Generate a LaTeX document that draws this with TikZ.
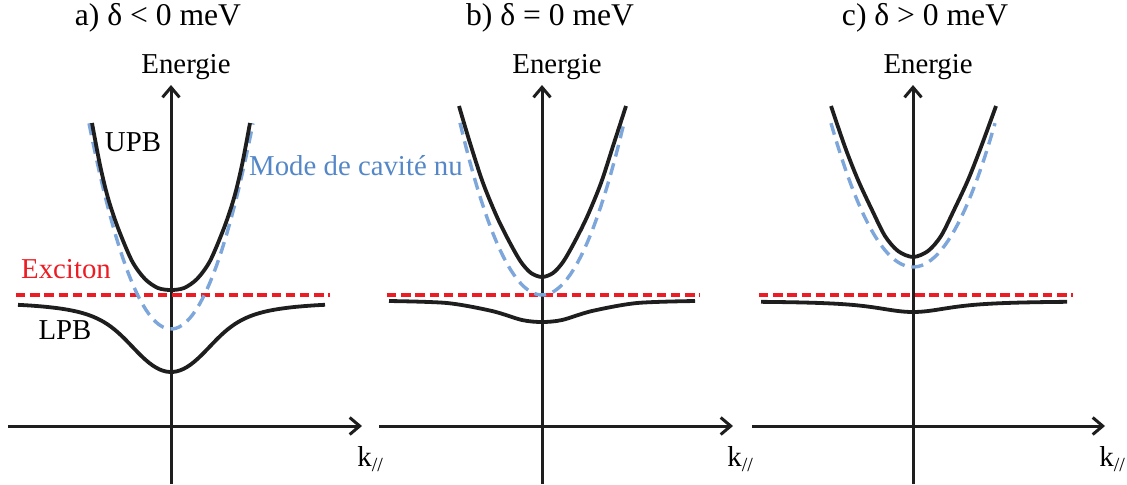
\documentclass[tikz,border=0pt]{standalone}
\usepackage{fontspec}
\setmainfont{Liberation Serif}
\usepackage{xcolor}
\definecolor{exciton}{RGB}{237,28,36}
\definecolor{cavity}{RGB}{125,166,218}
\definecolor{cavitytext}{RGB}{84,135,200}
\definecolor{branchcol}{RGB}{30,30,30}
\usetikzlibrary{arrows.meta, positioning}

\begin{document}
\begin{tikzpicture}[
        x=0.5pt, y=-0.5pt,
        declare function={
            cav(\k,\e,\a)=\e-\a*(\k)*(\k);
            lpb(\k,\e,\a,\g)=(cav(\k,\e,\a)+295)/2+10*veclen((cav(\k,\e,\a)-295)/20,\g/10)+6;
        },
        axis/.style={line width=1.5pt, draw=branchcol, -{Straight Barb[length=5pt, width=8.5pt]}},
        branch/.style={line width=1.9pt, draw=branchcol},
        excline/.style={line width=1.6pt, draw=exciton, dash pattern=on 4.7pt off 2.4pt},
        cavline/.style={line width=1.7pt, draw=cavity, dash pattern=on 6pt off 3.5pt},
        title/.style={font=\fontsize{15.8}{18}\selectfont},
        lbl/.style={font=\fontsize{14.4}{17}\selectfont, inner sep=0pt}
    ]
        \useasboundingbox (0,0) rectangle (1127,484);

        % Panel a
        \node[title] (ta) at (158,18) {a) δ < 0 meV};
        \coordinate (ya0) at (171,484);
        \coordinate (ya1) at (171,85);
        \coordinate (xa0) at (8,426);
        \coordinate (xa1) at (362,426);
        \draw[axis] (ya0) -- (ya1);
        \draw[axis] (xa0) -- (xa1);
        \node[lbl] (ena) at (186,67) {Energie};
        \node[lbl, anchor=west] (ka) at (357,459) {k\textsubscript{//}};
        \coordinate (exa0) at (16,295);
        \coordinate (exa1) at (330,295);
        \draw[excline] (exa0) -- (exa1);
        \draw[cavline] plot[domain=-82:82, samples=50] ({171+\x},{cav(\x,329,0.0306)});
        \draw[branch] plot[smooth] coordinates {(92,123) (100,165) (108,198) (118,228) (132,261) (145,279) (158,288) (171,290) (184,288) (197,279) (210,261) (224,228) (234,198) (242,165) (250,123)};
        \draw[branch] plot[domain=-153:154, samples=90] ({171+\x},{lpb(\x,329,0.0306,51.25)});
        \node[lbl] (upb) at (133,142) {UPB};
        \node[lbl] (lpbl) at (65,330) {LPB};
        \node[lbl, text=exciton] (exc) at (66,269) {Exciton};
        \node[lbl, text=cavitytext] (cavl) at (356,166) {Mode de cavité nu};

        % Panel b
        \node[title] (tb) at (550,18) {b) δ = 0 meV};
        \coordinate (yb0) at (542,484);
        \coordinate (yb1) at (542,85);
        \coordinate (xb0) at (379,426);
        \coordinate (xb1) at (733,426);
        \draw[axis] (yb0) -- (yb1);
        \draw[axis] (xb0) -- (xb1);
        \node[lbl] (enb) at (557,67) {Energie};
        \node[lbl, anchor=west] (kb) at (727,459) {k\textsubscript{//}};
        \coordinate (exb0) at (387,295);
        \coordinate (exb1) at (700,295);
        \draw[excline] (exb0) -- (exb1);
        \draw[cavline] plot[domain=-82:82, samples=50] ({542+\x},{cav(\x,295,0.0256)});
        \draw[branch] plot[smooth] coordinates {(459,106) (470,143) (483,183) (497,217) (510,243) (521,262) (531,273) (542,277) (553,273) (563,262) (574,243) (587,217) (601,183) (614,143) (626,106)};
        \draw[branch] plot[smooth] coordinates {(389,301) (447,303) (492,311) (522,320) (542,322) (562,320) (592,311) (637,303) (695,301)};

        % Panel c
        \node[title] (tc) at (925,18) {c) δ > 0 meV};
        \coordinate (yc0) at (913,484);
        \coordinate (yc1) at (913,85);
        \coordinate (xc0) at (752,426);
        \coordinate (xc1) at (1105,426);
        \draw[axis] (yc0) -- (yc1);
        \draw[axis] (xc0) -- (xc1);
        \node[lbl] (enc) at (928,67) {Energie};
        \node[lbl, anchor=west] (kc) at (1099,459) {k\textsubscript{//}};
        \coordinate (exc0) at (759,295);
        \coordinate (exc1) at (1073,295);
        \draw[excline] (exc0) -- (exc1);
        \draw[cavline] plot[domain=-82:82, samples=50] ({913+\x},{cav(\x,267,0.0214)});
        \draw[branch] plot[smooth] coordinates {(831,106) (845,147) (858,180) (872,210) (885,236) (898,251) (913,257) (928,251) (941,236) (954,210) (968,180) (981,147) (996,106)};
        \draw[branch] plot[domain=-152:154, samples=90] ({913+\x},{lpb(\x,267,0.0214,20.7)});
    \end{tikzpicture}
\end{document}
